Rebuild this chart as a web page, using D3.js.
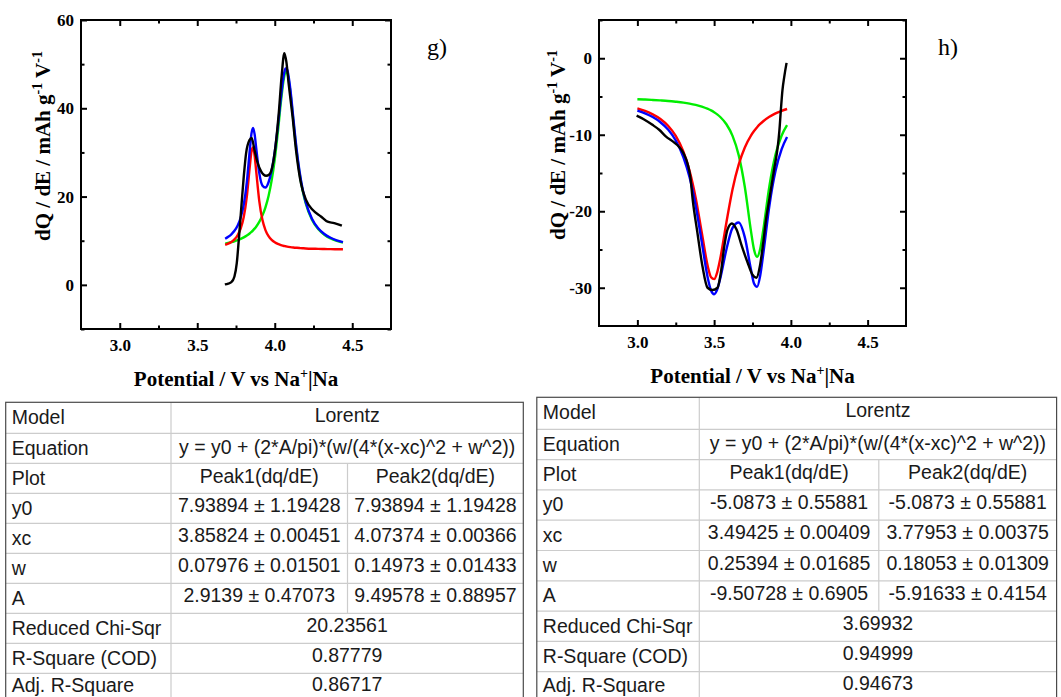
<!DOCTYPE html>
<html><head><meta charset="utf-8">
<script src="https://cdn.jsdelivr.net/npm/d3@7"></script>
<style>body{margin:0;background:#fff} svg{display:block}</style>
</head><body>
<svg id="c" width="1061" height="697"></svg>
<script>
// ---------- Panel g) data ----------
const gFitX = [3.68, 3.70, 3.72, 3.74, 3.76, 3.78, 3.80, 3.82, 3.84, 3.85, 3.86, 3.87, 3.88, 3.90, 3.92, 3.94, 3.96, 3.98, 4.00, 4.02, 4.04, 4.06, 4.07, 4.08, 4.10, 4.12, 4.14, 4.16, 4.18, 4.20, 4.24, 4.28, 4.32, 4.36, 4.40, 4.44];
const gPeak1 = [9.05, 9.33, 9.73, 10.31, 11.23, 12.74, 15.36, 20.06, 27.17, 30.25, 31.15, 29.34, 25.86, 19.03, 14.78, 12.41, 11.04, 10.19, 9.65, 9.27, 9.01, 8.81, 8.74, 8.67, 8.56, 8.47, 8.40, 8.34, 8.29, 8.25, 8.19, 8.15, 8.11, 8.09, 8.06, 8.05];
const gPeak2 = [9.35, 9.50, 9.67, 9.87, 10.11, 10.40, 10.75, 11.17, 11.70, 12.00, 12.35, 12.74, 13.18, 14.26, 15.68, 17.57, 20.14, 23.66, 28.43, 34.58, 41.50, 47.00, 48.21, 48.03, 43.89, 37.16, 30.58, 25.28, 21.33, 18.44, 14.75, 12.64, 11.36, 10.52, 9.96, 9.56];
const gFitSum = [10.46, 10.89, 11.46, 12.25, 13.40, 15.20, 18.17, 23.29, 30.93, 34.31, 35.56, 34.14, 31.11, 25.36, 22.52, 22.04, 23.24, 25.92, 30.14, 35.92, 42.56, 47.87, 49.01, 48.76, 44.51, 37.69, 31.04, 25.68, 21.68, 18.75, 15.00, 12.85, 11.53, 10.67, 10.08, 9.67];
const gDataX = [3.678, 3.70, 3.72, 3.74, 3.755, 3.768, 3.783, 3.80, 3.815, 3.837, 3.851, 3.869, 3.89, 3.912, 3.944, 3.965, 3.987, 4.005, 4.025, 4.045, 4.062, 4.075, 4.09, 4.115, 4.137, 4.169, 4.201, 4.244, 4.298, 4.341, 4.384, 4.433];
const gDataY = [0.1, 0.3, 0.6, 1.9, 4.9, 10.2, 17.0, 24.5, 29.8, 32.8, 33.3, 30.6, 27.6, 25.7, 24.7, 25.0, 27.2, 31.5, 38.5, 47.5, 52.5, 50.5, 45.5, 38.1, 30.6, 23.0, 19.3, 17.0, 15.5, 14.3, 14.0, 13.4];

// ---------- Panel h) data ----------
const hFitX = [3.00, 3.05, 3.10, 3.15, 3.20, 3.25, 3.30, 3.34, 3.38, 3.42, 3.46, 3.48, 3.50, 3.52, 3.54, 3.58, 3.62, 3.66, 3.70, 3.74, 3.76, 3.78, 3.80, 3.82, 3.86, 3.90, 3.94, 3.975];
const hPeak1 = [-6.56, -6.89, -7.33, -7.94, -8.83, -10.16, -12.22, -14.71, -18.26, -22.85, -27.31, -28.63, -28.87, -27.98, -26.18, -21.46, -17.12, -13.90, -11.66, -10.11, -9.52, -9.02, -8.59, -8.23, -7.65, -7.21, -6.88, -6.63];
const hPeak2 = [-5.36, -5.40, -5.45, -5.51, -5.58, -5.68, -5.80, -5.93, -6.10, -6.32, -6.63, -6.82, -7.06, -7.34, -7.68, -8.63, -10.15, -12.66, -16.83, -22.59, -25.02, -25.95, -24.93, -22.46, -16.71, -12.59, -10.10, -8.75];
const hFitSum = [-6.84, -7.20, -7.69, -8.36, -9.32, -10.75, -12.94, -15.56, -19.27, -24.09, -28.85, -30.36, -30.84, -30.23, -28.78, -25.00, -22.18, -21.48, -23.41, -27.62, -29.45, -29.88, -28.44, -25.60, -19.28, -14.72, -11.89, -10.30];
const hDataX = [2.995, 3.044, 3.098, 3.142, 3.185, 3.239, 3.272, 3.30, 3.33, 3.345, 3.36, 3.391, 3.424, 3.457, 3.489, 3.522, 3.544, 3.566, 3.587, 3.616, 3.646, 3.681, 3.718, 3.75, 3.776, 3.798, 3.82, 3.838, 3.859, 3.89, 3.915, 3.925, 3.935, 3.945, 3.957, 3.972];
const hDataY = [-7.5, -8.0, -8.7, -9.35, -10.2, -11.0, -11.6, -12.4, -14.0, -15.5, -18.4, -22.8, -27.2, -30.0, -30.3, -30.0, -28.0, -24.6, -22.4, -21.6, -22.4, -24.6, -26.7, -28.3, -28.7, -27.2, -24.1, -21.1, -18.5, -14.6, -11.5, -9.5, -6.7, -4.2, -2.4, -0.6];

// ---------- Axes ----------
const xDomain = [2.75, 4.75];
const xMajorTicks = [3.0, 3.5, 4.0, 4.5];
const xMinorTicks = [3.25, 3.75, 4.25];
const gYDomain = [-10, 60];
const gYMajorTicks = [0, 20, 40, 60];
const gYMinorTicks = [-10, 10, 30, 50];
const hYDomain = [-35, 5];
const hYMajorTicks = [0, -10, -20, -30];
const hYMinorTicks = [5, -5, -15, -25];

// ---------- Tables ----------
const rowLabels = ["Model", "Equation", "Plot", "y0", "xc", "w", "A", "Reduced Chi-Sqr", "R-Square (COD)", "Adj. R-Square"];
const modelName = "Lorentz";
const equationText = "y = y0 + (2*A/pi)*(w/(4*(x-xc)^2 + w^2))";
const peakHeaders = ["Peak1(dq/dE)", "Peak2(dq/dE)"];
const gPeak1Params = ["7.93894 ± 1.19428", "3.85824 ± 0.00451", "0.07976 ± 0.01501", "2.9139 ± 0.47073"];
const gPeak2Params = ["7.93894 ± 1.19428", "4.07374 ± 0.00366", "0.14973 ± 0.01433", "9.49578 ± 0.88957"];
const gStats = ["20.23561", "0.87779", "0.86717"];
const hPeak1Params = ["-5.0873 ± 0.55881", "3.49425 ± 0.00409", "0.25394 ± 0.01685", "-9.50728 ± 0.6905"];
const hPeak2Params = ["-5.0873 ± 0.55881", "3.77953 ± 0.00375", "0.18053 ± 0.01309", "-5.91633 ± 0.4154"];
const hStats = ["3.69932", "0.94999", "0.94673"];

const svg = d3.select("#c");
svg.append("rect").attr("width", 1061).attr("height", 697).attr("fill", "#fff");

const SERIF = "'Liberation Serif','Times New Roman',serif";
const SANS = "'Liberation Sans',Arial,sans-serif";

function drawChart(o) {
  const x = d3.scaleLinear().domain(xDomain).range([o.left, o.right]);
  const y = d3.scaleLinear().domain(o.yDomain).range([o.bottom, o.top]);
  const g = svg.append("g");

  const mk = (xs) => d3.line().x((d, i) => x(xs[i])).y(d => y(d)).curve(d3.curveMonotoneX);
  const series = [
    {xs: o.fitX, ys: o.peak2, c: "#00ee00"},
    {xs: o.fitX, ys: o.peak1, c: "#ff0000"},
    {xs: o.fitX, ys: o.sum, c: "#0000ff"},
    {xs: o.dataX, ys: o.dataY, c: "#000000"}
  ];
  series.forEach(s => {
    g.append("path").attr("d", mk(s.xs)(s.ys)).attr("fill", "none")
      .attr("stroke", s.c).attr("stroke-width", 2.4).attr("stroke-linejoin", "round");
  });

  const styleAxis = (sel) => {
    sel.select(".domain").remove();
    sel.selectAll(".tick line").attr("stroke", "#000").attr("stroke-width", 2);
    sel.selectAll("text").attr("font-family", SERIF).attr("font-weight", "bold")
      .attr("font-size", 17).attr("fill", "#000");
  };
  g.append("g").attr("transform", `translate(0,${o.bottom})`)
    .call(d3.axisBottom(x).tickValues(xMajorTicks).tickSize(-6).tickPadding(10).tickFormat(d3.format(".1f"))).call(styleAxis);
  g.append("g").attr("transform", `translate(0,${o.bottom})`)
    .call(d3.axisBottom(x).tickValues(xMinorTicks).tickSize(-3.5).tickFormat("")).call(styleAxis);
  g.append("g").attr("transform", `translate(0,${o.top})`)
    .call(d3.axisTop(x).tickValues(xMajorTicks).tickSize(-6).tickFormat("")).call(styleAxis);
  g.append("g").attr("transform", `translate(0,${o.top})`)
    .call(d3.axisTop(x).tickValues(xMinorTicks).tickSize(-3.5).tickFormat("")).call(styleAxis);
  g.append("g").attr("transform", `translate(${o.left},0)`)
    .call(d3.axisLeft(y).tickValues(o.yMajor).tickSize(-6).tickPadding(7).tickFormat(d => String(d))).call(styleAxis);
  g.append("g").attr("transform", `translate(${o.left},0)`)
    .call(d3.axisLeft(y).tickValues(o.yMinor).tickSize(-3.5).tickFormat("")).call(styleAxis);
  g.append("g").attr("transform", `translate(${o.right},0)`)
    .call(d3.axisRight(y).tickValues(o.yMajor).tickSize(-6).tickFormat("")).call(styleAxis);
  g.append("g").attr("transform", `translate(${o.right},0)`)
    .call(d3.axisRight(y).tickValues(o.yMinor).tickSize(-3.5).tickFormat("")).call(styleAxis);

  g.append("rect").attr("x", o.left).attr("y", o.top)
    .attr("width", o.right - o.left).attr("height", o.bottom - o.top)
    .attr("fill", "none").attr("stroke", "#000").attr("stroke-width", 2);

  const yl = g.append("text").attr("transform", `translate(${o.yLabelX},${o.yLabelY}) rotate(-90)`)
    .attr("text-anchor", "middle").attr("font-family", SERIF).attr("font-weight", "bold")
    .attr("font-size", 21).attr("fill", "#000");
  yl.append("tspan").text("dQ / dE / mAh g");
  yl.append("tspan").attr("font-size", 14).attr("dy", -8).text("-1");
  yl.append("tspan").attr("dy", 8).text(" V");
  yl.append("tspan").attr("font-size", 14).attr("dy", -8).text("-1");

  const xl = g.append("text").attr("x", (o.left + o.right) / 2).attr("y", o.xLabelY)
    .attr("text-anchor", "middle").attr("font-family", SERIF).attr("font-weight", "bold")
    .attr("font-size", 21).attr("fill", "#000");
  xl.append("tspan").text("Potential / V vs Na");
  xl.append("tspan").attr("font-size", 14).attr("dy", -8).text("+");
  xl.append("tspan").attr("dy", 8).text("|Na");

  g.append("text").attr("x", o.tagX).attr("y", 55).attr("font-family", SERIF)
    .attr("font-size", 24).attr("fill", "#000").text(o.tag);
}

drawChart({left: 81, right: 391, top: 20, bottom: 329, yDomain: gYDomain,
  yMajor: gYMajorTicks, yMinor: gYMinorTicks,
  fitX: gFitX, peak1: gPeak1, peak2: gPeak2, sum: gFitSum, dataX: gDataX, dataY: gDataY,
  yLabelX: 50, yLabelY: 146, xLabelY: 386, tag: "g)", tagX: 427});

drawChart({left: 599, right: 906, top: 20, bottom: 326, yDomain: hYDomain,
  yMajor: hYMajorTicks, yMinor: hYMinorTicks,
  fitX: hFitX, peak1: hPeak1, peak2: hPeak2, sum: hFitSum, dataX: hDataX, dataY: hDataY,
  yLabelX: 565, yLabelY: 145, xLabelY: 383, tag: "h)", tagX: 938});

function drawTable(t) {
  const g = svg.append("g");
  const rowTops = [t.top];
  for (let i = 0; i < rowLabels.length; i++) rowTops.push(rowTops[i] + (i === 0 ? t.firstH : t.rowH));
  const bottom = rowTops[rowLabels.length];
  for (let i = 1; i < rowLabels.length; i++) {
    g.append("line").attr("x1", t.x0).attr("x2", t.x3).attr("y1", rowTops[i]).attr("y2", rowTops[i])
      .attr("stroke", "#cccccc").attr("stroke-width", 1.2);
  }
  g.append("line").attr("x1", t.c1).attr("x2", t.c1).attr("y1", t.top).attr("y2", bottom)
    .attr("stroke", "#cccccc").attr("stroke-width", 1.2);
  g.append("line").attr("x1", t.c2).attr("x2", t.c2).attr("y1", rowTops[2]).attr("y2", rowTops[7])
    .attr("stroke", "#cccccc").attr("stroke-width", 1.2);
  g.append("rect").attr("x", t.x0).attr("y", t.top).attr("width", t.x3 - t.x0).attr("height", bottom - t.top)
    .attr("fill", "none").attr("stroke", "#4a4a4a").attr("stroke-width", 1.2);

  const txt = (x, y, s, anchor) => g.append("text").attr("x", x).attr("y", y)
    .attr("text-anchor", anchor).attr("font-family", SANS).attr("font-size", 19.5)
    .attr("fill", "#1a1a1a").text(s);
  rowLabels.forEach((lab, i) => txt(t.x0 + 6, Math.min(rowTops[i] + 21.5, 692), lab, "start"));
  const mid = (t.c1 + t.x3) / 2, m1 = (t.c1 + t.c2) / 2, m2 = (t.c2 + t.x3) / 2;
  txt(mid, rowTops[0] + 19.5, modelName, "middle");
  txt(mid, rowTops[1] + 20.5, equationText, "middle");
  txt(m1, rowTops[2] + 19.5, peakHeaders[0], "middle");
  txt(m2, rowTops[2] + 19.5, peakHeaders[1], "middle");
  for (let k = 0; k < 4; k++) {
    txt(m1, rowTops[3 + k] + 19, t.p1[k], "middle");
    txt(m2, rowTops[3 + k] + 19, t.p2[k], "middle");
  }
  t.stats.forEach((s, k) => txt(mid, Math.min(rowTops[7 + k] + 18.5, 691), s, "middle"));
}

drawTable({x0: 5.7, c1: 171, c2: 347.5, x3: 523.3, top: 402.3, firstH: 31, rowH: 30,
  p1: gPeak1Params, p2: gPeak2Params, stats: gStats});
drawTable({x0: 536.8, c1: 699.3, c2: 878.8, x3: 1056.6, top: 397.3, firstH: 32, rowH: 30.3,
  p1: hPeak1Params, p2: hPeak2Params, stats: hStats});
</script>
</body></html>
